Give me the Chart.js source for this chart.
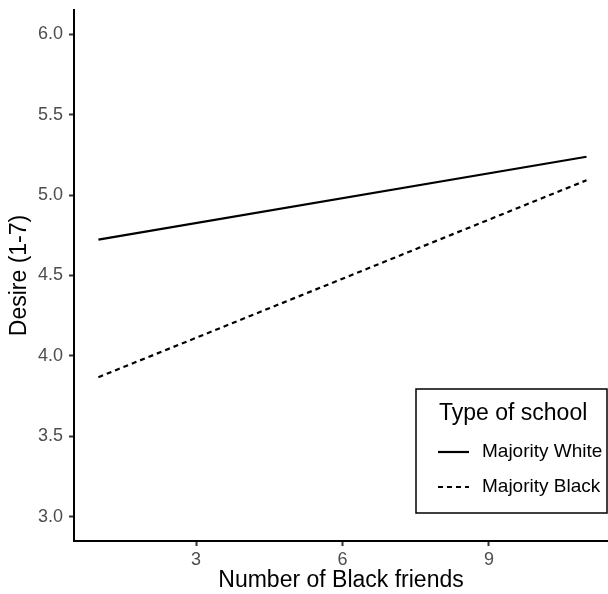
<!DOCTYPE html>
<html>
<head>
<meta charset="utf-8">
<script src="https://cdn.jsdelivr.net/npm/chart.js@4.4.1/dist/chart.umd.min.js"></script>
<style>
  html, body { margin: 0; padding: 0; background: #ffffff; }
  #wrap { width: 608px; height: 594px; position: relative; }
</style>
</head>
<body>
<div id="wrap"><canvas id="c"></canvas></div>
<script>
// ---- data ----
const friendsX = [1, 11];
const majorityWhite = [4.723, 5.238];
const majorityBlack = [3.868, 5.092];
const seriesLabels = ['Majority White', 'Majority Black'];
const xTicks = [3, 6, 9];
const yTicks = [3.0, 3.5, 4.0, 4.5, 5.0, 5.5, 6.0];
const xTitle = 'Number of Black friends';
const yTitle = 'Desire (1-7)';
const legendTitle = 'Type of school';

const FONT = '"Liberation Sans", Arial, Helvetica, sans-serif';

const toPts = (xs, ys) => xs.map((x, i) => ({ x: x, y: ys[i] }));

const legendPlugin = {
  id: 'boxLegend',
  afterDraw(chart) {
    const ctx = chart.ctx;
    const ca = chart.chartArea;
    const bx = 416, by = 389, bw = ca.right - 1 - 416, bh = 124;
    ctx.save();
    ctx.fillStyle = '#ffffff';
    ctx.fillRect(bx, by, bw, bh);
    ctx.strokeStyle = '#000000';
    ctx.lineWidth = 1.5;
    ctx.strokeRect(bx, by, bw, bh);
    ctx.fillStyle = '#000000';
    ctx.textAlign = 'left';
    ctx.textBaseline = 'alphabetic';
    ctx.font = '23px ' + FONT;
    ctx.fillText(legendTitle, 439, 420);
    chart.data.datasets.forEach((ds, i) => {
      const yy = 452 + i * 35;
      ctx.beginPath();
      ctx.setLineDash(ds.borderDash || []);
      ctx.lineWidth = ds.borderWidth;
      ctx.strokeStyle = ds.borderColor;
      ctx.moveTo(438, yy);
      ctx.lineTo(469, yy);
      ctx.stroke();
      ctx.setLineDash([]);
      ctx.fillStyle = '#000000';
      ctx.font = '19px ' + FONT;
      ctx.textBaseline = 'middle';
      ctx.fillText(ds.label, 482, yy);
    });
    ctx.restore();
  }
};

new Chart(document.getElementById('c'), {
  type: 'scatter',
  data: {
    datasets: [
      {
        label: seriesLabels[0],
        data: toPts(friendsX, majorityWhite),
        showLine: true,
        borderColor: '#000000',
        borderWidth: 2.2,
        pointRadius: 0,
        fill: false
      },
      {
        label: seriesLabels[1],
        data: toPts(friendsX, majorityBlack),
        showLine: true,
        borderColor: '#000000',
        borderWidth: 2.2,
        borderDash: [5, 4],
        pointRadius: 0,
        fill: false
      }
    ]
  },
  options: {
    responsive: true,
    maintainAspectRatio: false,
    animation: false,
    layout: { padding: { top: 10, right: 0, bottom: 0, left: 0 } },
    plugins: {
      legend: { display: false },
      tooltip: { enabled: false }
    },
    scales: {
      x: {
        type: 'linear',
        min: 0.5,
        max: 11.44,
        afterBuildTicks: (s) => { s.ticks = xTicks.map(v => ({ value: v })); },
        afterFit: (s) => { s.height = 53; s.paddingLeft = 0; s.paddingRight = 0; },
        border: { display: true, color: '#000000', width: 2 },
        grid: { display: true, drawOnChartArea: false, drawTicks: true, tickLength: 5, tickWidth: 2, tickColor: '#333333' },
        ticks: { color: '#4d4d4d', font: { family: FONT, size: 18 }, padding: 3, maxRotation: 0 },
        title: { display: true, text: xTitle, color: '#000000', font: { family: FONT, size: 23 }, padding: { top: 0, bottom: 0 } }
      },
      y: {
        type: 'linear',
        min: 2.85,
        max: 6.15,
        afterBuildTicks: (s) => { s.ticks = yTicks.map(v => ({ value: v })); },
        afterFit: (s) => { s.width = 74; s.paddingTop = 0; s.paddingBottom = 0; },
        border: { display: true, color: '#000000', width: 2 },
        grid: { display: true, drawOnChartArea: false, drawTicks: true, tickLength: 5, tickWidth: 2, tickColor: '#333333' },
        ticks: { color: '#4d4d4d', font: { family: FONT, size: 18 }, padding: 6, callback: (v) => Number(v).toFixed(1) },
        title: { display: true, text: yTitle, color: '#000000', font: { family: FONT, size: 23 }, padding: { top: 6, bottom: 0 } }
      }
    }
  },
  plugins: [legendPlugin]
});
</script>
</body>
</html>
